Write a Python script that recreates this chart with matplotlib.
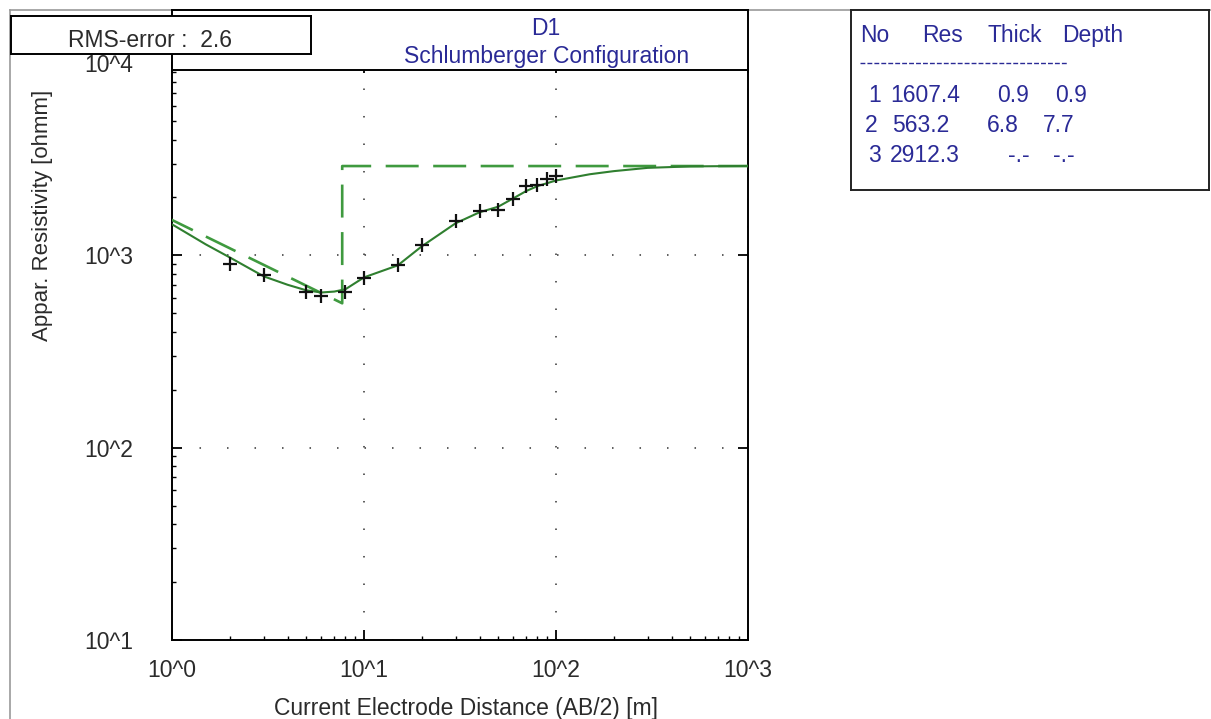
import math
import matplotlib
matplotlib.use('Agg')
import matplotlib.pyplot as plt
from matplotlib.ticker import FixedLocator, FuncFormatter, LogLocator, NullFormatter

plt.rcParams['font.family'] = ['Liberation Sans', 'DejaVu Sans']

# ---------------- data ----------------
ab2_obs = [2, 3, 5, 6, 8, 10, 15, 20, 30, 40, 50, 60, 70, 80, 90, 100]
rho_obs = [906, 787, 644, 614, 644, 765, 887, 1127, 1510, 1694, 1729, 1958, 2286, 2315, 2507, 2575]

ab2_calc = [1, 1.5, 2, 3, 4, 5, 6, 7, 8, 10, 15, 20, 30, 40, 50, 60, 70, 80,
            100, 150, 200, 300, 500, 1000]
rho_calc = [1450, 1140, 975, 778, 703, 658, 641, 648, 666, 768, 887, 1114, 1468,
            1675, 1790, 1980, 2160, 2290, 2450, 2640, 2740, 2850, 2900, 2915]

layer_no = [1, 2, 3]
layer_res = [1607.4, 563.2, 2912.3]
layer_thick = [0.9, 6.8, None]
layer_depth = [0.9, 7.7, None]
rms_error = 2.6
title_lines = ['D1', 'Schlumberger Configuration']
x_ticks = [1, 10, 100, 1000]
y_ticks = [10, 100, 1000, 10000]

# ---------------- layout helpers ----------------
W, H = 1211, 719
fig = plt.figure(figsize=(W / 100, H / 100), dpi=100)
fig.patch.set_facecolor('white')


def fr(x0, y0, x1, y1):
    return [x0 / W, 1 - y1 / H, (x1 - x0) / W, (y1 - y0) / H]


def px(x, y):
    return x / W, 1 - y / H


NAVY = '#2a2a96'
TXT = '#2b2b2b'
FS = 16.5

# outer panel border (grey)
fig.add_artist(plt.Line2D([10 / W, 10 / W], [0, 1 - 10 / H], color='#9a9a9a', lw=1.2))
fig.add_artist(plt.Line2D([10 / W, 1], [1 - 10 / H, 1 - 10 / H], color='#9a9a9a', lw=1.2))

# ---------------- main axes ----------------
ax = fig.add_axes(fr(172, 63, 748, 640))
ax.set_xscale('log')
ax.set_yscale('log')
ax.set_xlim(1, 1000)
ax.set_ylim(10, 10000)

fmt = FuncFormatter(lambda v, p: '10^%d' % round(math.log10(v)))
ax.xaxis.set_major_locator(FixedLocator(x_ticks))
ax.yaxis.set_major_locator(FixedLocator(y_ticks))
ax.xaxis.set_major_formatter(fmt)
ax.yaxis.set_major_formatter(fmt)
ax.xaxis.set_minor_locator(LogLocator(base=10, subs=range(2, 10)))
ax.yaxis.set_minor_locator(LogLocator(base=10, subs=range(2, 10)))
ax.xaxis.set_minor_formatter(NullFormatter())
ax.yaxis.set_minor_formatter(NullFormatter())

ax.tick_params(which='major', direction='in', length=7, width=1.3, color='black',
               labelsize=FS, labelcolor=TXT, top=True, right=True)
ax.tick_params(which='minor', direction='in', length=2.8, width=1.0, color='black',
               top=False, right=False)
ax.tick_params(axis='y', which='major', pad=28)
ax.tick_params(axis='x', which='major', pad=14)

for s in ax.spines.values():
    s.set_linewidth(1.4)
    s.set_color('black')

ax.grid(True, which='major', linestyle=(0, (1, 17)), color='#333333', lw=1.1)

# model (layered earth) - dashed
mx = [layer_depth[0], layer_depth[1], layer_depth[1], ax.get_xlim()[1]]
my = [layer_res[0], layer_res[1], layer_res[2], layer_res[2]]
ax.plot(mx, my, color='#3f9a3f', lw=1.9, linestyle=(0, (12.5, 5.5)), zorder=3)

# calculated curve
ax.plot(ab2_calc, rho_calc, color='#2f7f2f', lw=1.5, zorder=4)

# observed data
ax.plot(ab2_obs, rho_obs, linestyle='none', marker='+', ms=10.5, mew=1.6,
        color='#111111', zorder=5)

ax.set_xlabel('Current Electrode Distance (AB/2) [m]', fontsize=FS, color=TXT)
ax.xaxis.set_label_coords((466 - 172) / 576, (640 - 697) / 577)
ax.xaxis.label.set_va('top')
ax.set_ylabel('Appar. Resistivity [ohmm]', fontsize=FS - 0.5, color=TXT)
ax.yaxis.set_label_coords((53 - 172) / 576, (640 - 215) / 577)

# ---------------- title box ----------------
tax = fig.add_axes(fr(172, 10, 748, 70), zorder=5)
tax.set_xticks([])
tax.set_yticks([])
tax.set_facecolor('white')
for s in tax.spines.values():
    s.set_linewidth(1.4)
    s.set_color('black')
fig.text(*px(546, 35), title_lines[0], ha='center', va='baseline', fontsize=FS,
         color=NAVY, zorder=10)
fig.text(*px(547, 63), title_lines[1], ha='center', va='baseline', fontsize=FS,
         color=NAVY, zorder=10)

# ---------------- RMS box ----------------
rax = fig.add_axes(fr(11, 16, 311, 54), zorder=6)
rax.set_xticks([])
rax.set_yticks([])
rax.set_facecolor('white')
for s in rax.spines.values():
    s.set_linewidth(1.4)
    s.set_color('black')
fig.text(*px(68, 47), 'RMS-error :  %.1f' % rms_error, ha='left', va='baseline',
         fontsize=FS, color=TXT, zorder=10)

# ---------------- layer table ----------------
bax = fig.add_axes(fr(851, 10, 1209, 190), zorder=6)
bax.set_xticks([])
bax.set_yticks([])
bax.set_facecolor('white')
for s in bax.spines.values():
    s.set_linewidth(1.4)
    s.set_color('#222222')

hdr = ['No', 'Res', 'Thick', 'Depth']
hdr_x = [860, 922, 987, 1062]
for h, x in zip(hdr, hdr_x):
    fig.text(*px(x, 42), h, ha='left', va='baseline', fontsize=FS, color=NAVY, zorder=10)
fig.add_artist(plt.Line2D([860 / W, 1068 / W], [1 - 63 / H, 1 - 63 / H],
                          color=NAVY, lw=1.0, linestyle=(0, (3.5, 1.5)), zorder=10))

row_y = [102, 132, 162]
col_x = [[868, 890, 997, 1055],
         [865, 892, 987, 1043],
         [868, 890, 1008, 1053]]
for i in range(len(layer_no)):
    cells = [str(layer_no[i]), '%.1f' % layer_res[i],
             '-.-' if layer_thick[i] is None else '%.1f' % layer_thick[i],
             '-.-' if layer_depth[i] is None else '%.1f' % layer_depth[i]]
    for c, x in zip(cells, col_x[i]):
        fig.text(*px(x, row_y[i]), c, ha='left', va='baseline', fontsize=FS,
                 color=NAVY, zorder=10)

fig.savefig('out.png', dpi=100)
